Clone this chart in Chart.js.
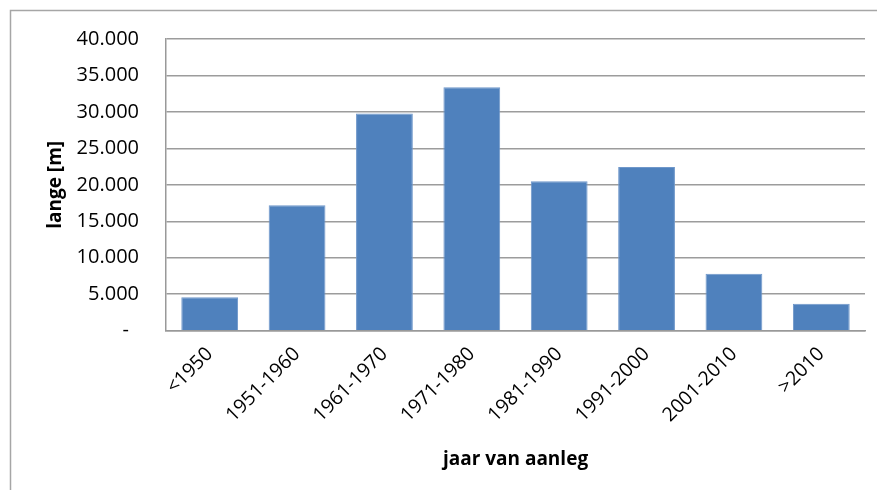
<!DOCTYPE html>
<html>
<head>
<meta charset="utf-8">
<script src="https://cdn.jsdelivr.net/npm/chart.js@4"></script>
<style>
html,body{margin:0;padding:0;background:#fff;}
#wrap{position:absolute;left:0;top:0;width:877px;height:490px;}
</style>
</head>
<body>
<div id="wrap"><canvas id="c" width="877" height="490"></canvas></div>
<script>
const categories = ['<1950','1951-1960','1961-1970','1971-1980','1981-1990','1991-2000','2001-2010','>2010'];
const lengths = [4600, 17200, 29800, 33400, 20500, 22450, 7800, 3700];
const yTicks = [0, 5000, 10000, 15000, 20000, 25000, 30000, 35000, 40000];

const FONT = "'Open Sans', 'Liberation Sans', sans-serif";

const frame = {
  id: 'frame',
  beforeDraw(chart) {
    const ctx = chart.ctx;
    ctx.save();
    ctx.fillStyle = '#fff';
    ctx.fillRect(0, 0, chart.width, chart.height);
    ctx.strokeStyle = '#a6a6a6';
    ctx.lineWidth = 1.5;
    ctx.strokeRect(10.5, 10.5, chart.width + 20, chart.height + 20);
    ctx.restore();
  }
};

function fmt(v) {
  if (v === 0) return '-\u2002';
  return v.toLocaleString('de-DE');
}

new Chart(document.getElementById('c'), {
  type: 'bar',
  data: {
    labels: categories,
    datasets: [{
      data: lengths,
      backgroundColor: '#4F81BD',
      borderColor: '#6f97ca',
      borderWidth: 1,
      categoryPercentage: 1,
      barPercentage: 0.65
    }]
  },
  options: {
    responsive: false,
    animation: false,
    devicePixelRatio: 1,
    layout: { padding: { left: 30, right: 12, top: 35.7, bottom: 0 } },
    plugins: { legend: { display: false }, tooltip: { enabled: false } },
    scales: {
      x: {
        grid: { display: false, drawTicks: false },
        border: { display: true, color: '#999', width: 1.5 },
        ticks: {
          color: '#000',
          font: { family: FONT, size: 19.5 },
          minRotation: 45, maxRotation: 45,
          padding: 12
        },
        title: {
          display: true,
          text: 'jaar van aanleg',
          color: '#000',
          font: { family: FONT, size: 19, weight: 'bold' },
          padding: { top: 0, bottom: 18.6 }
        },
        afterFit(s) { s.height = 490 - 330.7; }
      },
      y: {
        min: 0, max: 40000,
        afterBuildTicks(s) { s.ticks = yTicks.map(v => ({ value: v })); },
        grid: { color: '#9c9c9c', lineWidth: 1.5, drawTicks: false },
        border: { display: true, color: '#999', width: 1.5 },
        ticks: {
          color: '#000',
          font: { family: FONT, size: 20 },
          padding: 27,
          callback: (v) => fmt(v)
        },
        title: {
          display: true,
          text: 'lange [m]',
          color: '#000',
          font: { family: FONT, size: 19, weight: 'bold' },
          padding: { top: 14.6, bottom: 0 }
        },
        afterFit(s) { s.width = 166 - 30; }
      }
    }
  },
  plugins: [frame]
});
</script>
</body>
</html>
